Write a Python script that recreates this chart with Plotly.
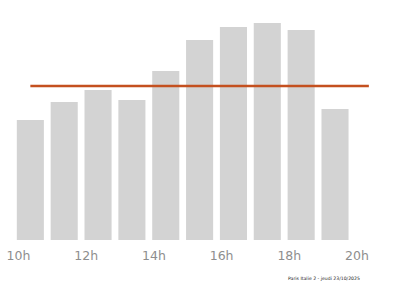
import plotly.graph_objects as go

hours = [10, 11, 12, 13, 14, 15, 16, 17, 18, 19]
visits = [120, 138, 150, 140, 169, 200, 213, 217, 210, 131]
avg_hours = [10, 20]
avg_value = [154, 154]
tick_vals = [10, 12, 14, 16, 18, 20]
tick_text = ["10h", "12h", "14h", "16h", "18h", "20h"]
footer = "Paris Italie 2 - jeudi 23/10/2025"

shift = 0.35

fig = go.Figure()
fig.add_trace(go.Bar(
    x=hours, y=visits, width=0.8, offset=-0.05,
    marker=dict(color="#d3d3d3", line=dict(width=0)),
    hoverinfo="skip",
))
fig.add_trace(go.Scatter(
    x=[h + shift for h in avg_hours], y=avg_value, mode="lines",
    line=dict(color="#c4501f", width=2.6), hoverinfo="skip",
))

fig.update_layout(
    width=400, height=286,
    margin=dict(l=0, r=0, t=0, b=46),
    paper_bgcolor="white", plot_bgcolor="white",
    showlegend=False,
    xaxis=dict(range=[9.4535, 21.27], tickvals=tick_vals, ticktext=tick_text,
               showgrid=False, zeroline=False, showline=False, ticks="",
               ticklabelstandoff=6,
               tickfont=dict(family="DejaVu Sans", size=12.5, color="#8e8e8e")),
    yaxis=dict(range=[0, 240], visible=False, showgrid=False, zeroline=False),
    annotations=[dict(
        text=footer, xref="paper", yref="paper", x=0.81, y=-0.16,
        xanchor="center", yanchor="middle", showarrow=False,
        font=dict(family="DejaVu Sans", size=4.6, color="#222222"),
    )],
)

fig.write_html("out.html")
